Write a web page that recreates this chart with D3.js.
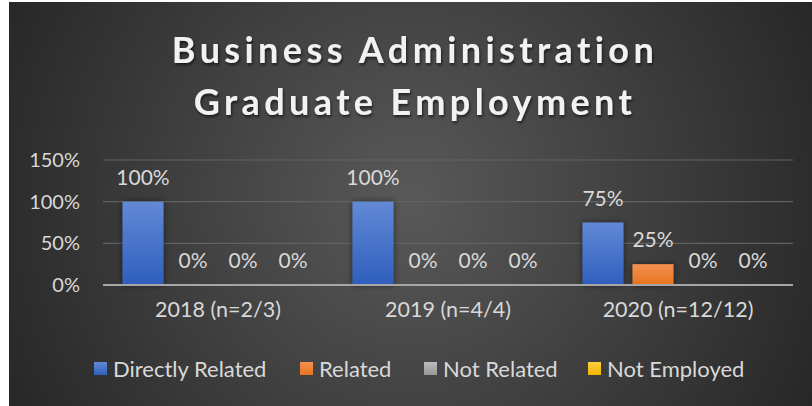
<!DOCTYPE html>
<html>
<head>
<meta charset="utf-8">
<script src="https://cdn.jsdelivr.net/npm/d3@7"></script>
<style>
  html, body { margin: 0; padding: 0; background: #fff; }
  svg { display: block; }
  text { font-family: Lato, "Open Sans", sans-serif; }
</style>
</head>
<body>
<svg id="chart" width="812" height="406"></svg>
<script>
// chart data
const categories = ['2018 (n=2/3)', '2019 (n=4/4)', '2020 (n=12/12)'];
const seriesNames = ['Directly Related', 'Related', 'Not Related', 'Not Employed'];
const directlyRelated = [1.00, 1.00, 0.75];
const related = [0.00, 0.00, 0.25];
const notRelated = [0.00, 0.00, 0.00];
const notEmployed = [0.00, 0.00, 0.00];
const yTicks = [0, 0.5, 1, 1.5];
const titleLines = ['Business Administration', 'Graduate Employment'];

const seriesValues = [directlyRelated, related, notRelated, notEmployed];
const colors = ['#4472c4', '#ed7d31', '#a5a5a5', '#ffc000'];
const lightColors = ['#6189d6', '#f4914f', '#bcbcbc', '#ffd040'];
const darkColors = ['#2f5fbd', '#e8731f', '#969696', '#f0b400'];

const W = 812, H = 406;
const margin = { top: 160, right: 19, bottom: 121, left: 103 };
const width = W - margin.left - margin.right;
const height = H - margin.top - margin.bottom;

const svg = d3.select('#chart');
const defs = svg.append('defs');

// background radial gradient
const bg = defs.append('radialGradient')
  .attr('id', 'bg')
  .attr('gradientUnits', 'userSpaceOnUse')
  .attr('cx', 410).attr('cy', 200).attr('r', 460);
bg.append('stop').attr('offset', '0%').attr('stop-color', '#595959');
bg.append('stop').attr('offset', '100%').attr('stop-color', '#262626');

colors.forEach((c, i) => {
  const g = defs.append('linearGradient')
    .attr('id', 'bar' + i)
    .attr('x1', 0).attr('x2', 0).attr('y1', 0).attr('y2', 1);
  g.append('stop').attr('offset', '0%').attr('stop-color', lightColors[i]);
  g.append('stop').attr('offset', '100%').attr('stop-color', darkColors[i]);
});

const shadow = defs.append('filter').attr('id', 'shadow')
  .attr('x', '-30%').attr('y', '-30%').attr('width', '160%').attr('height', '160%');
shadow.append('feDropShadow')
  .attr('dx', 0).attr('dy', 0).attr('stdDeviation', 3)
  .attr('flood-color', '#000').attr('flood-opacity', 0.55);

const tshadow = defs.append('filter').attr('id', 'tshadow')
  .attr('x', '-10%').attr('y', '-30%').attr('width', '120%').attr('height', '160%');
tshadow.append('feDropShadow')
  .attr('dx', 1).attr('dy', 2).attr('stdDeviation', 1.5)
  .attr('flood-color', '#000').attr('flood-opacity', 0.6);

svg.append('rect')
  .attr('x', 9).attr('y', 2)
  .attr('width', W - 9).attr('height', H - 2)
  .attr('fill', 'url(#bg)');

// title
svg.append('g')
  .attr('filter', 'url(#tshadow)')
  .selectAll('text')
  .data(titleLines)
  .join('text')
  .attr('x', 415)
  .attr('y', (d, i) => 63 + i * 52)
  .attr('text-anchor', 'middle')
  .attr('fill', '#f2f2f2')
  .attr('font-size', 36)
  .attr('font-weight', 700)
  .attr('letter-spacing', 4.4)
  .text(d => d);

const g = svg.append('g')
  .attr('transform', `translate(${margin.left},${margin.top})`);

const y = d3.scaleLinear().domain([0, 1.5]).range([height, 0]);
const x0 = d3.scaleBand().domain(categories).range([0, width]).paddingInner(0).paddingOuter(0);
const x1 = d3.scaleBand().domain(seriesNames).range([19.5, x0.bandwidth() - 19.5]).paddingInner(0.18).paddingOuter(0);

// gridlines
g.append('g')
  .selectAll('line')
  .data(yTicks.filter(t => t > 0))
  .join('line')
  .attr('x1', 0).attr('x2', width)
  .attr('y1', d => y(d)).attr('y2', d => y(d))
  .attr('stroke', '#626262')
  .attr('stroke-width', 1.2);

// y axis labels
const yAxis = g.append('g')
  .call(d3.axisLeft(y).tickValues(yTicks).tickFormat(d3.format('.0%')).tickSize(0).tickPadding(23));
yAxis.select('.domain').remove();
yAxis.selectAll('text')
  .attr('fill', '#d9d9d9')
  .attr('font-size', 20)
  .attr('font-family', 'Lato, sans-serif');

// bars
const rows = categories.map((c, ci) => seriesNames.map((s, si) => ({ cat: c, ser: s, si, v: seriesValues[si][ci] })));
const groups = g.selectAll('.grp')
  .data(rows)
  .join('g')
  .attr('class', 'grp')
  .attr('transform', d => `translate(${x0(d[0].cat)},0)`);

groups.selectAll('rect')
  .data(d => d.filter(e => e.v > 0))
  .join('rect')
  .attr('x', d => x1(d.ser))
  .attr('y', d => y(d.v))
  .attr('width', x1.bandwidth())
  .attr('height', d => y(0) - y(d.v))
  .attr('fill', d => `url(#bar${d.si})`)
  .attr('filter', 'url(#shadow)');

groups.selectAll('text')
  .data(d => d)
  .join('text')
  .attr('x', d => x1(d.ser) + x1.bandwidth() / 2)
  .attr('y', d => y(d.v) - 17)
  .attr('text-anchor', 'middle')
  .attr('fill', '#d9d9d9')
  .attr('font-size', 21)
  .text(d => d3.format('.0%')(d.v));

// baseline
g.append('line')
  .attr('x1', 0).attr('x2', width)
  .attr('y1', y(0)).attr('y2', y(0))
  .attr('stroke', '#a6a6a6')
  .attr('stroke-width', 2);

// x axis labels
const xAxis = g.append('g')
  .attr('transform', `translate(0,${height})`)
  .call(d3.axisBottom(x0).tickSize(0).tickPadding(17));
xAxis.select('.domain').remove();
xAxis.selectAll('text')
  .attr('fill', '#d9d9d9')
  .attr('font-size', 21.5)
  .attr('font-family', 'Lato, sans-serif');

// legend
const legendX = [94, 300, 424, 588];
const legend = svg.append('g')
  .selectAll('g')
  .data(seriesNames)
  .join('g')
  .attr('transform', (d, i) => `translate(${legendX[i]},362)`);
legend.append('rect')
  .attr('width', 13).attr('height', 13)
  .attr('fill', (d, i) => `url(#bar${i})`);
legend.append('text')
  .attr('x', 19).attr('y', 14.5)
  .attr('fill', '#d9d9d9')
  .attr('font-size', 22)
  .text(d => d);
</script>
</body>
</html>
